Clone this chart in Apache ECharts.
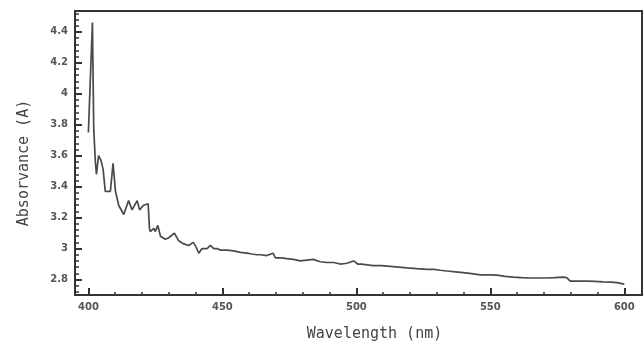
<!DOCTYPE html>
<html>
<head>
<meta charset="utf-8">
<script src="https://cdn.jsdelivr.net/npm/echarts@6/dist/echarts.min.js"></script>
<style>
  html, body { margin: 0; padding: 0; background: #fff; }
  #chart { width: 644px; height: 347px; }
</style>
</head>
<body>
<div id="chart"></div>
<script>
// spectrum
var wavelength = [
  400.0, 401.5, 402.0, 402.6, 403.0, 403.8, 404.7, 405.5, 406.3, 408.2,
  409.2, 410.1, 411.3, 413.2, 415.0, 416.3, 418.2, 419.1, 420.6, 422.3,
  422.8, 423.1, 424.4, 425.0, 425.9, 426.9, 428.7, 430.0, 432.1, 433.7,
  435.6, 437.4, 439.1, 439.9, 441.2, 442.4, 444.3, 445.5, 446.8, 448.0,
  449.3, 451.7, 454.2, 456.7, 459.2, 461.0, 462.9, 464.2, 466.5, 468.9,
  469.8, 472.0, 474.1, 476.5, 479.1, 481.5, 483.9, 486.5, 489.1, 491.5,
  494.0, 496.5, 499.0, 500.5, 502.0, 504.0, 506.4, 509.5, 512.7, 515.8,
  518.9, 522.5, 526.4, 529.0, 531.3, 533.8, 537.0, 539.9, 543.0, 546.3,
  549.5, 552.5, 555.5, 558.6, 561.5, 564.9, 568.0, 571.1, 574.0, 577.2,
  578.5, 579.8, 583.0, 586.1, 589.0, 592.2, 595.0, 597.3, 600.0
];
var absorbance = [
  3.75, 4.46, 3.77, 3.56, 3.48, 3.60, 3.57, 3.51, 3.37, 3.37,
  3.55, 3.37, 3.28, 3.22, 3.31, 3.25, 3.31, 3.25, 3.28, 3.29,
  3.13, 3.11, 3.13, 3.11, 3.15, 3.08, 3.06, 3.07, 3.10, 3.05,
  3.03, 3.02, 3.04, 3.02, 2.97, 3.00, 3.00, 3.02, 3.00, 3.00,
  2.99, 2.99, 2.985, 2.975, 2.97, 2.965, 2.96, 2.96, 2.955, 2.97,
  2.94, 2.94, 2.935, 2.93, 2.92, 2.925, 2.93, 2.915, 2.91, 2.91,
  2.90, 2.905, 2.92, 2.90, 2.90, 2.895, 2.89, 2.89, 2.885, 2.88,
  2.875, 2.87, 2.866, 2.865, 2.86, 2.855, 2.85, 2.845, 2.838, 2.83,
  2.83, 2.828, 2.82, 2.815, 2.812, 2.81, 2.81, 2.81, 2.812, 2.815,
  2.812, 2.79, 2.79, 2.79, 2.788, 2.785, 2.783, 2.78, 2.77
];
var xMajor = [400, 450, 500, 550, 600];
var xMinor = [410, 420, 430, 440, 460, 470, 480, 490, 510, 520, 530, 540, 560, 570, 580, 590];
var yMajor = [2.8, 3.0, 3.2, 3.4, 3.6, 3.8, 4.0, 4.2, 4.4];
var yMinor = [2.72, 2.76, 2.84, 2.88, 2.92, 2.96, 3.04, 3.08, 3.12, 3.16, 3.24, 3.28, 3.32, 3.36,
  3.44, 3.48, 3.52, 3.56, 3.64, 3.68, 3.72, 3.76, 3.84, 3.88, 3.92, 3.96, 4.04, 4.08, 4.12, 4.16,
  4.24, 4.28, 4.32, 4.36, 4.44, 4.48, 4.52];

var points = wavelength.map(function (w, i) { return [w, absorbance[i]]; });

var ink = '#333';
var labelStyle = { color: '#555', fontSize: 10, fontWeight: 'bold', fontFamily: 'DejaVu Sans, sans-serif' };
var nameStyle = { color: '#444', fontSize: 15, fontFamily: 'DejaVu Sans Mono, monospace' };

var chart = echarts.init(document.getElementById('chart'));
chart.setOption({
  backgroundColor: '#fff',
  animation: false,
  grid: { left: 75, right: 2, top: 11, bottom: 51, show: true, borderColor: ink, borderWidth: 2, backgroundColor: 'transparent' },
  xAxis: [
    {
      type: 'value', min: 395, max: 606.6,
      name: 'Wavelength (nm)', nameLocation: 'middle', nameGap: 32,
      nameTextStyle: Object.assign({ padding: [0, 0, 0, 32] }, nameStyle),
      axisLine: { lineStyle: { color: ink, width: 2 } },
      axisTick: { inside: true, length: 7, customValues: xMajor, lineStyle: { color: ink, width: 2 } },
      axisLabel: Object.assign({ margin: 7, customValues: xMajor }, labelStyle),
      splitLine: { show: false }
    },
    {
      type: 'value', min: 395, max: 606.6, position: 'bottom',
      axisLine: { show: false },
      axisTick: { inside: true, length: 3, customValues: xMinor, lineStyle: { color: ink, width: 1.5 } },
      axisLabel: { show: false },
      splitLine: { show: false }
    }
  ],
  yAxis: [
    {
      type: 'value', min: 2.7, max: 4.535,
      name: 'Absorvance (A)', nameLocation: 'middle', nameGap: 43,
      nameTextStyle: Object.assign({ padding: [0, 20, 0, 0] }, nameStyle),
      axisLine: { lineStyle: { color: ink, width: 2 } },
      axisTick: { inside: true, length: 7, customValues: yMajor, lineStyle: { color: ink, width: 2 } },
      axisLabel: Object.assign({
        margin: 7, customValues: yMajor,
        formatter: function (v) { return String(Math.round(v * 10) / 10); }
      }, labelStyle),
      splitLine: { show: false }
    },
    {
      type: 'value', min: 2.7, max: 4.535, position: 'left',
      axisLine: { show: false },
      axisTick: { inside: true, length: 4, customValues: yMinor, lineStyle: { color: ink, width: 1.5 } },
      axisLabel: { show: false },
      splitLine: { show: false }
    }
  ],
  series: [{
    type: 'line',
    data: points,
    showSymbol: false,
    lineStyle: { color: '#4a4a4a', width: 1.7 },
    z: 3
  }]
});
</script>
</body>
</html>
